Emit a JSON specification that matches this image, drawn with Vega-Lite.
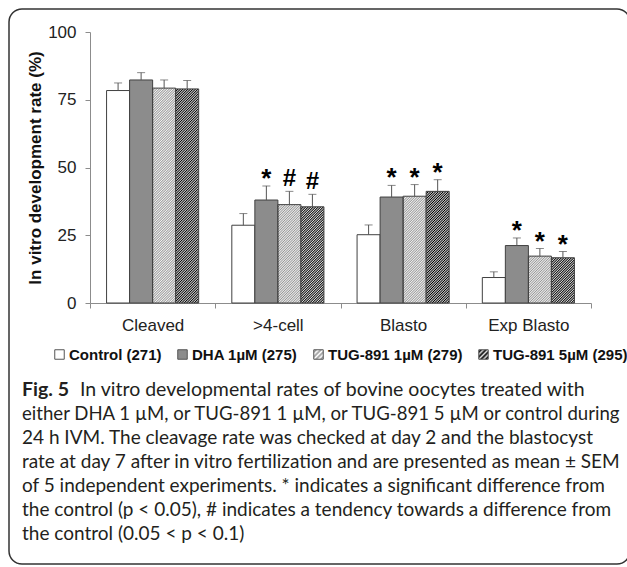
{
 "$schema": "https://vega.github.io/schema/vega-lite/v6.json",
 "autosize": {"type": "none"},
 "padding": {"left": 9, "top": 9, "right": 9, "bottom": 9},
 "width": 621,
 "height": 555,
 "view": {"stroke": "#333333", "strokeWidth": 1.5, "cornerRadius": 13},
 "resolve": {"scale": {"x": "independent", "y": "independent"}},
 "params": [{"name": "hatch", "value": [
{"offset":0,"color":"#000"},{"offset":0.005,"color":"#e0e0e0"},{"offset":0.01,"color":"#000"},{"offset":0.015,"color":"#e0e0e0"},{"offset":0.02,"color":"#000"},{"offset":0.025,"color":"#e0e0e0"},{"offset":0.03,"color":"#000"},{"offset":0.035,"color":"#e0e0e0"},{"offset":0.04,"color":"#000"},{"offset":0.045,"color":"#e0e0e0"},
{"offset":0.05,"color":"#000"},{"offset":0.055,"color":"#e0e0e0"},{"offset":0.06,"color":"#000"},{"offset":0.065,"color":"#e0e0e0"},{"offset":0.07,"color":"#000"},{"offset":0.075,"color":"#e0e0e0"},{"offset":0.08,"color":"#000"},{"offset":0.085,"color":"#e0e0e0"},{"offset":0.09,"color":"#000"},{"offset":0.095,"color":"#e0e0e0"},
{"offset":0.1,"color":"#000"},{"offset":0.105,"color":"#e0e0e0"},{"offset":0.11,"color":"#000"},{"offset":0.115,"color":"#e0e0e0"},{"offset":0.12,"color":"#000"},{"offset":0.125,"color":"#e0e0e0"},{"offset":0.13,"color":"#000"},{"offset":0.135,"color":"#e0e0e0"},{"offset":0.14,"color":"#000"},{"offset":0.145,"color":"#e0e0e0"},
{"offset":0.15,"color":"#000"},{"offset":0.155,"color":"#e0e0e0"},{"offset":0.16,"color":"#000"},{"offset":0.165,"color":"#e0e0e0"},{"offset":0.17,"color":"#000"},{"offset":0.175,"color":"#e0e0e0"},{"offset":0.18,"color":"#000"},{"offset":0.185,"color":"#e0e0e0"},{"offset":0.19,"color":"#000"},{"offset":0.195,"color":"#e0e0e0"},
{"offset":0.2,"color":"#000"},{"offset":0.205,"color":"#e0e0e0"},{"offset":0.21,"color":"#000"},{"offset":0.215,"color":"#e0e0e0"},{"offset":0.22,"color":"#000"},{"offset":0.225,"color":"#e0e0e0"},{"offset":0.23,"color":"#000"},{"offset":0.235,"color":"#e0e0e0"},{"offset":0.24,"color":"#000"},{"offset":0.245,"color":"#e0e0e0"},
{"offset":0.25,"color":"#000"},{"offset":0.255,"color":"#e0e0e0"},{"offset":0.26,"color":"#000"},{"offset":0.265,"color":"#e0e0e0"},{"offset":0.27,"color":"#000"},{"offset":0.275,"color":"#e0e0e0"},{"offset":0.28,"color":"#000"},{"offset":0.285,"color":"#e0e0e0"},{"offset":0.29,"color":"#000"},{"offset":0.295,"color":"#e0e0e0"},
{"offset":0.3,"color":"#000"},{"offset":0.305,"color":"#e0e0e0"},{"offset":0.31,"color":"#000"},{"offset":0.315,"color":"#e0e0e0"},{"offset":0.32,"color":"#000"},{"offset":0.325,"color":"#e0e0e0"},{"offset":0.33,"color":"#000"},{"offset":0.335,"color":"#e0e0e0"},{"offset":0.34,"color":"#000"},{"offset":0.345,"color":"#e0e0e0"},
{"offset":0.35,"color":"#000"},{"offset":0.355,"color":"#e0e0e0"},{"offset":0.36,"color":"#000"},{"offset":0.365,"color":"#e0e0e0"},{"offset":0.37,"color":"#000"},{"offset":0.375,"color":"#e0e0e0"},{"offset":0.38,"color":"#000"},{"offset":0.385,"color":"#e0e0e0"},{"offset":0.39,"color":"#000"},{"offset":0.395,"color":"#e0e0e0"},
{"offset":0.4,"color":"#000"},{"offset":0.405,"color":"#e0e0e0"},{"offset":0.41,"color":"#000"},{"offset":0.415,"color":"#e0e0e0"},{"offset":0.42,"color":"#000"},{"offset":0.425,"color":"#e0e0e0"},{"offset":0.43,"color":"#000"},{"offset":0.435,"color":"#e0e0e0"},{"offset":0.44,"color":"#000"},{"offset":0.445,"color":"#e0e0e0"},
{"offset":0.45,"color":"#000"},{"offset":0.455,"color":"#e0e0e0"},{"offset":0.46,"color":"#000"},{"offset":0.465,"color":"#e0e0e0"},{"offset":0.47,"color":"#000"},{"offset":0.475,"color":"#e0e0e0"},{"offset":0.48,"color":"#000"},{"offset":0.485,"color":"#e0e0e0"},{"offset":0.49,"color":"#000"},{"offset":0.495,"color":"#e0e0e0"},
{"offset":0.5,"color":"#000"},{"offset":0.505,"color":"#e0e0e0"},{"offset":0.51,"color":"#000"},{"offset":0.515,"color":"#e0e0e0"},{"offset":0.52,"color":"#000"},{"offset":0.525,"color":"#e0e0e0"},{"offset":0.53,"color":"#000"},{"offset":0.535,"color":"#e0e0e0"},{"offset":0.54,"color":"#000"},{"offset":0.545,"color":"#e0e0e0"},
{"offset":0.55,"color":"#000"},{"offset":0.555,"color":"#e0e0e0"},{"offset":0.56,"color":"#000"},{"offset":0.565,"color":"#e0e0e0"},{"offset":0.57,"color":"#000"},{"offset":0.575,"color":"#e0e0e0"},{"offset":0.58,"color":"#000"},{"offset":0.585,"color":"#e0e0e0"},{"offset":0.59,"color":"#000"},{"offset":0.595,"color":"#e0e0e0"},
{"offset":0.6,"color":"#000"},{"offset":0.605,"color":"#e0e0e0"},{"offset":0.61,"color":"#000"},{"offset":0.615,"color":"#e0e0e0"},{"offset":0.62,"color":"#000"},{"offset":0.625,"color":"#e0e0e0"},{"offset":0.63,"color":"#000"},{"offset":0.635,"color":"#e0e0e0"},{"offset":0.64,"color":"#000"},{"offset":0.645,"color":"#e0e0e0"},
{"offset":0.65,"color":"#000"},{"offset":0.655,"color":"#e0e0e0"},{"offset":0.66,"color":"#000"},{"offset":0.665,"color":"#e0e0e0"},{"offset":0.67,"color":"#000"},{"offset":0.675,"color":"#e0e0e0"},{"offset":0.68,"color":"#000"},{"offset":0.685,"color":"#e0e0e0"},{"offset":0.69,"color":"#000"},{"offset":0.695,"color":"#e0e0e0"},
{"offset":0.7,"color":"#000"},{"offset":0.705,"color":"#e0e0e0"},{"offset":0.71,"color":"#000"},{"offset":0.715,"color":"#e0e0e0"},{"offset":0.72,"color":"#000"},{"offset":0.725,"color":"#e0e0e0"},{"offset":0.73,"color":"#000"},{"offset":0.735,"color":"#e0e0e0"},{"offset":0.74,"color":"#000"},{"offset":0.745,"color":"#e0e0e0"},
{"offset":0.75,"color":"#000"},{"offset":0.755,"color":"#e0e0e0"},{"offset":0.76,"color":"#000"},{"offset":0.765,"color":"#e0e0e0"},{"offset":0.77,"color":"#000"},{"offset":0.775,"color":"#e0e0e0"},{"offset":0.78,"color":"#000"},{"offset":0.785,"color":"#e0e0e0"},{"offset":0.79,"color":"#000"},{"offset":0.795,"color":"#e0e0e0"},
{"offset":0.8,"color":"#000"},{"offset":0.805,"color":"#e0e0e0"},{"offset":0.81,"color":"#000"},{"offset":0.815,"color":"#e0e0e0"},{"offset":0.82,"color":"#000"},{"offset":0.825,"color":"#e0e0e0"},{"offset":0.83,"color":"#000"},{"offset":0.835,"color":"#e0e0e0"},{"offset":0.84,"color":"#000"},{"offset":0.845,"color":"#e0e0e0"},
{"offset":0.85,"color":"#000"},{"offset":0.855,"color":"#e0e0e0"},{"offset":0.86,"color":"#000"},{"offset":0.865,"color":"#e0e0e0"},{"offset":0.87,"color":"#000"},{"offset":0.875,"color":"#e0e0e0"},{"offset":0.88,"color":"#000"},{"offset":0.885,"color":"#e0e0e0"},{"offset":0.89,"color":"#000"},{"offset":0.895,"color":"#e0e0e0"},
{"offset":0.9,"color":"#000"},{"offset":0.905,"color":"#e0e0e0"},{"offset":0.91,"color":"#000"},{"offset":0.915,"color":"#e0e0e0"},{"offset":0.92,"color":"#000"},{"offset":0.925,"color":"#e0e0e0"},{"offset":0.93,"color":"#000"},{"offset":0.935,"color":"#e0e0e0"},{"offset":0.94,"color":"#000"},{"offset":0.945,"color":"#e0e0e0"},
{"offset":0.95,"color":"#000"},{"offset":0.955,"color":"#e0e0e0"},{"offset":0.96,"color":"#000"},{"offset":0.965,"color":"#e0e0e0"},{"offset":0.97,"color":"#000"},{"offset":0.975,"color":"#e0e0e0"},{"offset":0.98,"color":"#000"},{"offset":0.985,"color":"#e0e0e0"},{"offset":0.99,"color":"#000"},{"offset":0.995,"color":"#e0e0e0"},
{"offset":1,"color":"#000"}
 ]}],
 "config": {
  "font": "Liberation Sans",
  "axis": {"grid": false, "domainColor": "#8c8c8c", "tickColor": "#8c8c8c", "labelColor": "#222222", "labelFontSize": 17, "titleColor": "#111111"}
 },
 "layer": [
  {
   "data": {"values": [
    {"stage": "Cleaved", "treatment": "Control (271)", "value": 78.4, "hi": 81.2, "sig": ""},
    {"stage": "Cleaved", "treatment": "DHA 1µM (275)", "value": 82.3, "hi": 85.0, "sig": ""},
    {"stage": "Cleaved", "treatment": "TUG-891 1µM (279)", "value": 79.3, "hi": 82.3, "sig": ""},
    {"stage": "Cleaved", "treatment": "TUG-891 5µM (295)", "value": 79.0, "hi": 82.1, "sig": ""},
    {"stage": ">4-cell", "treatment": "Control (271)", "value": 28.7, "hi": 33.0, "sig": ""},
    {"stage": ">4-cell", "treatment": "DHA 1µM (275)", "value": 38.0, "hi": 43.2, "sig": "*"},
    {"stage": ">4-cell", "treatment": "TUG-891 1µM (279)", "value": 36.3, "hi": 41.2, "sig": "#"},
    {"stage": ">4-cell", "treatment": "TUG-891 5µM (295)", "value": 35.5, "hi": 40.1, "sig": "#"},
    {"stage": "Blasto", "treatment": "Control (271)", "value": 25.2, "hi": 28.8, "sig": ""},
    {"stage": "Blasto", "treatment": "DHA 1µM (275)", "value": 39.1, "hi": 43.4, "sig": "*"},
    {"stage": "Blasto", "treatment": "TUG-891 1µM (279)", "value": 39.4, "hi": 43.7, "sig": "*"},
    {"stage": "Blasto", "treatment": "TUG-891 5µM (295)", "value": 41.2, "hi": 45.5, "sig": "*"},
    {"stage": "Exp Blasto", "treatment": "Control (271)", "value": 9.4, "hi": 11.5, "sig": ""},
    {"stage": "Exp Blasto", "treatment": "DHA 1µM (275)", "value": 21.2, "hi": 24.0, "sig": "*"},
    {"stage": "Exp Blasto", "treatment": "TUG-891 1µM (279)", "value": 17.3, "hi": 20.1, "sig": "*"},
    {"stage": "Exp Blasto", "treatment": "TUG-891 5µM (295)", "value": 16.7, "hi": 19.0, "sig": "*"}
   ]},
   "encoding": {
    "x": {"field": "stage", "type": "nominal", "sort": ["Cleaved", ">4-cell", "Blasto", "Exp Blasto"],
          "scale": {"paddingInner": 0, "paddingOuter": 0, "range": [81, 582]},
          "axis": {"title": null, "labelAngle": 0, "tickBand": "extent", "tickSize": 5, "labelPadding": 9, "offset": -261}},
    "xOffset": {"field": "treatment", "type": "nominal",
          "sort": ["Control (271)", "DHA 1µM (275)", "TUG-891 1µM (279)", "TUG-891 5µM (295)"],
          "scale": {"paddingInner": 0, "paddingOuter": 0.72}}
   },
   "layer": [
    {
     "mark": {"type": "bar", "opacity": 0},
     "encoding": {
      "y": {"field": "value", "type": "quantitative", "title": "In vitro development rate (%)",
            "scale": {"domain": [0, 100], "nice": false, "range": [294, 23]},
            "axis": {"values": [0, 25, 50, 75, 100], "tickSize": 5, "labelPadding": 9, "titleFontSize": 17, "titleFontWeight": "bold", "titlePadding": 3, "offset": -81}},
      "fill": {"field": "treatment", "type": "nominal",
               "scale": {"domain": ["Control (271)", "DHA 1µM (275)", "TUG-891 1µM (279)", "TUG-891 5µM (295)"],
                         "range": ["#ffffff", "#8c8c8c",
                                   {"expr": "{gradient: 'linear', x1: 0, y1: 0, x2: 1, y2: 1, stops: [{offset: 0, color: '#fff'}, {offset: 0.125, color: '#999'}, {offset: 0.25, color: '#fff'}, {offset: 0.375, color: '#999'}, {offset: 0.5, color: '#fff'}, {offset: 0.625, color: '#999'}, {offset: 0.75, color: '#fff'}, {offset: 0.875, color: '#999'}, {offset: 1, color: '#fff'}]}"},
                                   {"expr": "{gradient: 'linear', x1: 0, y1: 0, x2: 1, y2: 1, stops: [{offset: 0, color: '#ddd'}, {offset: 0.125, color: '#000'}, {offset: 0.25, color: '#ddd'}, {offset: 0.375, color: '#000'}, {offset: 0.5, color: '#ddd'}, {offset: 0.625, color: '#000'}, {offset: 0.75, color: '#ddd'}, {offset: 0.875, color: '#000'}, {offset: 1, color: '#ddd'}]}"}]},
               "legend": {"title": null, "orient": "none", "legendX": 43, "legendY": 338, "direction": "horizontal", "columns": 4, "gridAlign": "none",
                          "symbolType": "square", "symbolSize": 90, "symbolStrokeColor": "#555555", "symbolStrokeWidth": 1, "symbolOpacity": 1,
                          "labelFontSize": 15, "labelFontWeight": "bold", "labelColor": "#111111", "columnPadding": 13, "labelOffset": 2}}
     }
    },
    {
     "mark": {"type": "bar", "stroke": "#404040", "strokeWidth": 1,
              "fill": {"expr": "datum.treatment === 'Control (271)' ? '#ffffff' : datum.treatment === 'DHA 1µM (275)' ? '#8c8c8c' : {gradient: 'linear', x1: 0, y1: 0, x2: 250 * 23 / (529 + pow(datum.value * 2.71, 2)), y2: 250 * datum.value * 2.71 / (529 + pow(datum.value * 2.71, 2)), stops: hatch}"},
              "fillOpacity": {"expr": "datum.treatment === 'TUG-891 1µM (279)' ? 0.4 : 1"}},
     "encoding": {"y": {"field": "value", "type": "quantitative", "title": "In vitro development rate (%)"}}
    },
    {
     "mark": {"type": "rule", "color": "#555555", "strokeWidth": 1},
     "encoding": {"y": {"field": "value", "type": "quantitative", "title": "In vitro development rate (%)"}, "y2": {"field": "hi"}}
    },
    {
     "mark": {"type": "tick", "color": "#555555", "thickness": 1, "size": 8, "orient": "horizontal"},
     "encoding": {"y": {"field": "hi", "type": "quantitative", "title": "In vitro development rate (%)"}}
    },
    {
     "transform": [{"filter": "datum.sig === '*'"}],
     "mark": {"type": "text", "fontSize": 26, "fontWeight": "bold", "baseline": "alphabetic", "dy": 1, "color": "#000000"},
     "encoding": {"y": {"field": "hi", "type": "quantitative", "title": "In vitro development rate (%)"}, "text": {"field": "sig"}}
    },
    {
     "transform": [{"filter": "datum.sig === '#'"}],
     "mark": {"type": "text", "fontSize": 24, "fontWeight": "bold", "baseline": "alphabetic", "dy": -5, "color": "#000000"},
     "encoding": {"y": {"field": "hi", "type": "quantitative", "title": "In vitro development rate (%)"}, "text": {"field": "sig"}}
    }
   ]
  },
  {
   "data": {"values": [
    {"line": 1, "part": "bold", "text": "Fig. 5"},
    {"line": 1, "part": "first", "text": "In vitro developmental rates of bovine oocytes treated with"},
    {"line": 2, "part": "rest", "text": "either DHA 1 µM, or TUG-891 1 µM, or TUG-891 5 µM or control during"},
    {"line": 3, "part": "rest", "text": "24 h IVM. The cleavage rate was checked at day 2 and the blastocyst"},
    {"line": 4, "part": "rest", "text": "rate at day 7 after in vitro fertilization and are presented as mean ± SEM"},
    {"line": 5, "part": "rest", "text": "of 5 independent experiments. * indicates a significant difference from"},
    {"line": 6, "part": "rest", "text": "the control (p < 0.05), # indicates a tendency towards a difference from"},
    {"line": 7, "part": "rest", "text": "the control (0.05 < p < 0.1)"}
   ]},
   "encoding": {
    "x": {"datum": 0, "type": "quantitative", "scale": {"domain": [0, 1], "range": [13, 514]}, "axis": null},
    "y": {"field": "line", "type": "ordinal", "scale": {"type": "point", "padding": 0, "domain": [1, 2, 3, 4, 5, 6, 7], "range": [381, 525]}, "axis": null},
    "text": {"field": "text"}
   },
   "layer": [
    {"transform": [{"filter": "datum.part === 'bold'"}],
     "mark": {"type": "text", "align": "left", "baseline": "middle", "font": "Lato", "fontSize": 19.5, "fontWeight": "bold", "color": "#231f20"}},
    {"transform": [{"filter": "datum.part === 'first'"}],
     "mark": {"type": "text", "align": "left", "baseline": "middle", "font": "Lato", "fontSize": 19.5, "dx": 58, "color": "#231f20"}},
    {"transform": [{"filter": "datum.part === 'rest' && datum.line === 2"}],
     "mark": {"type": "text", "align": "left", "baseline": "middle", "font": "Lato", "fontSize": 18.6, "color": "#231f20"}},
    {"transform": [{"filter": "datum.part === 'rest' && datum.line !== 2"}],
     "mark": {"type": "text", "align": "left", "baseline": "middle", "font": "Lato", "fontSize": 19, "color": "#231f20"}}
   ]
  }
 ]
}
